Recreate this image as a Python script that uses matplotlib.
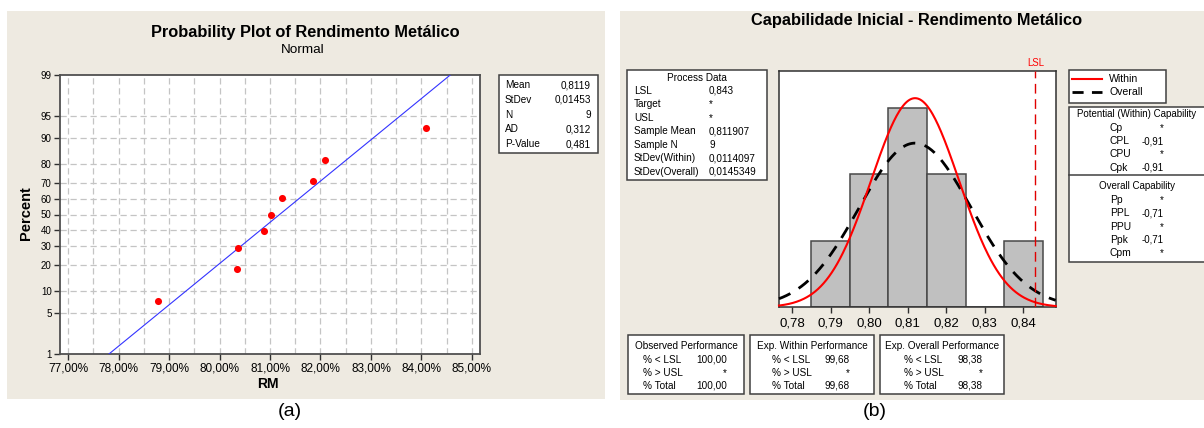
import numpy as np
import matplotlib
matplotlib.use("Agg")
import matplotlib.pyplot as plt
from matplotlib.patches import Rectangle
from statistics import NormalDist

plt.rcParams["font.family"] = ["Liberation Sans", "DejaVu Sans"]

# ---- data ------------------------------------------------------------------
rm_pct = [78.79, 80.35, 80.37, 80.88, 81.01, 81.24, 81.85, 82.09, 84.10]   # RM (%)
plot_pos = [7.45, 18.09, 28.72, 39.36, 50.0, 60.64, 71.28, 81.91, 92.55]   # Percent
prob_ticks = [1, 5, 10, 20, 30, 40, 50, 60, 70, 80, 90, 95, 99]
x_ticks_a = [77, 78, 79, 80, 81, 82, 83, 84, 85]
stat_names = ["Mean", "StDev", "N", "AD", "P-Value"]
stat_vals = ["0,8119", "0,01453", "9", "0,312", "0,481"]
fit_mean, fit_sd = 81.19, 1.453

bin_left = [0.785, 0.795, 0.805, 0.815, 0.825, 0.835]
bin_count = [1, 2, 3, 2, 0, 1]
bin_w = 0.01
lsl = 0.843
mean_b, sd_within, sd_overall, n_b = 0.811907, 0.0114097, 0.0145349, 9
x_ticks_b = [0.78, 0.79, 0.80, 0.81, 0.82, 0.83, 0.84]

pd_names = ["LSL", "Target", "USL", "Sample Mean", "Sample N", "StDev(Within)", "StDev(Overall)"]
pd_vals = ["0,843", "*", "*", "0,811907", "9", "0,0114097", "0,0145349"]
pot_names = ["Cp", "CPL", "CPU", "Cpk"]
pot_vals = ["*", "-0,91", "*", "-0,91"]
ovr_names = ["Pp", "PPL", "PPU", "Ppk", "Cpm"]
ovr_vals = ["*", "-0,71", "*", "-0,71", "*"]
perf_rows = ["% < LSL", "% > USL", "% Total"]
perf_titles = ["Observed Performance", "Exp. Within Performance", "Exp. Overall Performance"]
perf_vals = [["100,00", "*", "100,00"], ["99,68", "*", "99,68"], ["98,38", "*", "98,38"]]

# ---- figure helpers (pixel coords, origin top-left) ------------------------
W, H = 1204, 428
BG = "#EEEAE1"
EDGE = "#404040"
fig = plt.figure(figsize=(W / 100, H / 100), dpi=100)
fig.patch.set_facecolor("white")

def fx(x): return x / W
def fy(y): return 1 - y / H

def rect(x0, y0, x1, y1, fc="white", ec=EDGE, lw=1.1, z=0):
    fig.add_artist(Rectangle((fx(x0), fy(y1)), (x1 - x0) / W, (y1 - y0) / H,
                             transform=fig.transFigure, fc=fc, ec=ec, lw=lw, zorder=z))

def txt(x, y, s, **kw):
    kw.setdefault("va", "center")
    kw.setdefault("fontsize", 7.2)
    fig.text(fx(x), fy(y), s, **kw)

def axes_px(x0, y0, x1, y1):
    return fig.add_axes([fx(x0), fy(y1), (x1 - x0) / W, (y1 - y0) / H])

# panel backgrounds
rect(7, 11, 605, 399, fc=BG, ec="none", lw=0, z=-5)
rect(620, 11, 1204, 400, fc=BG, ec="none", lw=0, z=-5)

# ==== (a) probability plot ===================================================
nd = NormalDist()
z = lambda p: nd.inv_cdf(p / 100.0)
ax = axes_px(60, 75, 480, 354)
ax.set_facecolor("white")
ax.set_xlim(76.84, 85.16)
ax.set_ylim(z(1), z(99))
for gx in np.arange(77, 85.01, 0.5):
    ax.axvline(gx, color="#C4C4C4", lw=0.9, ls=(0, (5, 3)), zorder=1)
for p in prob_ticks[1:-1]:
    ax.axhline(z(p), color="#C4C4C4", lw=0.9, ls=(0, (5, 3)), zorder=1)
zz = np.array([z(1), z(99)])
ax.plot(fit_mean + zz * fit_sd, zz, color="#3333FF", lw=0.8, zorder=3)
ax.scatter(rm_pct, [z(p) for p in plot_pos], s=26, color="#FF0000", zorder=4, lw=0)
ax.set_xticks(x_ticks_a)
ax.set_xticklabels([f"{v:.2f}%".replace(".", ",") for v in x_ticks_a], fontsize=8.5)
ax.set_yticks([z(p) for p in prob_ticks])
ax.set_yticklabels([str(p) for p in prob_ticks], fontsize=7)
ax.tick_params(direction="out", length=4, width=1, color="#303030", pad=2)
for s in ax.spines.values():
    s.set_color("#505050"); s.set_linewidth(1.3)

txt(305, 32, "Probability Plot of Rendimento Metálico", ha="center", fontsize=11.8, fontweight="bold")
txt(303, 50, "Normal", ha="center", fontsize=9.7)
txt(26, 213, "Percent", ha="center", rotation=90, fontsize=10.5, fontweight="bold")
txt(268, 384, "RM", ha="center", fontsize=10, fontweight="bold")

rect(499, 75, 598, 153)
for i, (n, v) in enumerate(zip(stat_names, stat_vals)):
    yy = 85 + i * 14.8
    txt(505, yy, n)
    txt(591, yy, v, ha="right")

txt(290, 412, "(a)", ha="center", fontsize=14)

# ==== (b) capability histogram ===============================================
bx = axes_px(779, 70.7, 1055.7, 307.3)
bx.set_facecolor("white")
bx.set_xlim(0.7766, 0.8484)
bx.set_ylim(0, 3.56)
bx.bar(bin_left, bin_count, width=bin_w, align="edge", color="#C0C0C0",
       edgecolor="#484848", lw=1.1, zorder=2)
xs = np.linspace(0.7766, 0.8484, 300)
pdf = lambda x, m, s: np.exp(-0.5 * ((x - m) / s) ** 2) / (s * np.sqrt(2 * np.pi))
bx.plot(xs, n_b * bin_w * pdf(xs, mean_b, sd_within), color="#FF0000", lw=1.5, zorder=4,
        clip_on=False)
bx.plot(xs, n_b * bin_w * pdf(xs, mean_b, sd_overall), color="black", lw=2,
        ls=(0, (4.5, 3.5)), zorder=3, clip_on=False)
bx.axvline(lsl, color="#E00000", lw=1, ls=(0, (7, 4)), zorder=5)
bx.set_xticks(x_ticks_b)
bx.set_xticklabels([f"{v:.2f}".replace(".", ",") for v in x_ticks_b], fontsize=9.5)
bx.set_yticks([])
bx.tick_params(direction="out", length=4, width=1, color="#303030", pad=3)
for s in bx.spines.values():
    s.set_color("#303030"); s.set_linewidth(1.1)

txt(916.7, 21, "Capabilidade Inicial - Rendimento Metálico", ha="center", fontsize=11.8,
    fontweight="bold")
txt(1035.7, 63, "LSL", ha="center", fontsize=6.9, color="#FF0000")

# process data
rect(627, 70, 767, 180)
txt(697, 78, "Process Data", ha="center")
for i, (n, v) in enumerate(zip(pd_names, pd_vals)):
    yy = 90.7 + i * 13.5
    txt(634, yy, n)
    txt(709, yy, v)

# legend
rect(1069, 70, 1166, 102.7)
fig.add_artist(plt.Line2D([fx(1071.7), fx(1102.3)], [fy(79.3)] * 2, color="#FF0000", lw=1.5,
                          transform=fig.transFigure))
fig.add_artist(plt.Line2D([fx(1071.7), fx(1102.3)], [fy(92.3)] * 2, color="black", lw=2,
                          ls=(0, (4, 3)), transform=fig.transFigure))
txt(1109, 79.3, "Within", fontsize=7.6)
txt(1109, 92.3, "Overall", fontsize=7.6)

# capability tables
rect(1069, 106.7, 1210, 262.3)
fig.add_artist(plt.Line2D([fx(1069), fx(1204)], [fy(175)] * 2, color=EDGE, lw=1.1,
                          transform=fig.transFigure))
txt(1137, 114, "Potential (Within) Capability", ha="center", fontsize=7)
for i, (n, v) in enumerate(zip(pot_names, pot_vals)):
    yy = 127.7 + i * 13.3
    txt(1110, yy, n, fontsize=7.4)
    txt(1164, yy, v, ha="right", fontsize=7)
txt(1137, 185.7, "Overall Capability", ha="center", fontsize=7)
for i, (n, v) in enumerate(zip(ovr_names, ovr_vals)):
    yy = 200 + i * 13.3
    txt(1110, yy, n, fontsize=7.4)
    txt(1164, yy, v, ha="right", fontsize=7)

# performance boxes
box_x = [(628.3, 744), (750, 874.3), (880, 1004)]
row_x = [642.7, 772.3, 904.3]
val_x = [726.7, 850, 982.3]
for k in range(3):
    x0, x1 = box_x[k]
    rect(x0, 335, x1, 394.3)
    txt((x0 + x1) / 2, 345.7, perf_titles[k], ha="center")
    for i, r in enumerate(perf_rows):
        yy = 360 + i * 12.9
        txt(row_x[k], yy, r)
        txt(val_x[k], yy, perf_vals[k][i], ha="right")

txt(875, 412, "(b)", ha="center", fontsize=14)

fig.savefig("out.png", dpi=100, facecolor="white")
